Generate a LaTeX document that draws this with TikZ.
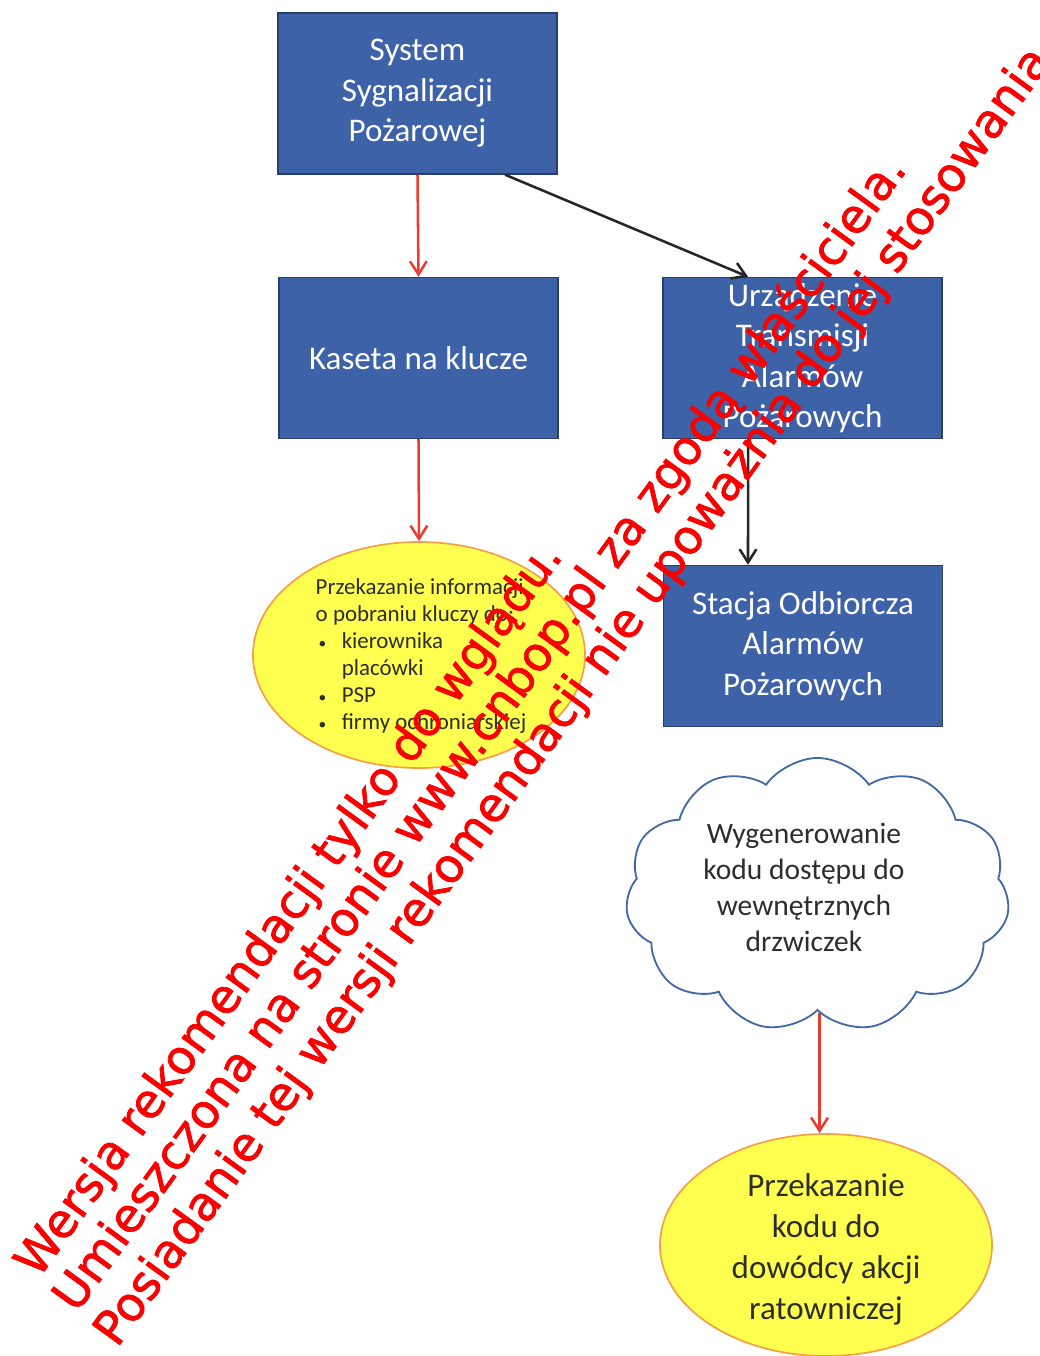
\documentclass[tikz,border=0pt]{standalone}
\usepackage{fontspec}
\setmainfont{Carlito}
\newfontfamily\wmfont[FakeBold=1.6]{DejaVu Sans}
\usetikzlibrary{shapes.geometric,shapes.symbols,arrows.meta}
\definecolor{boxblue}{RGB}{62,98,168}
\definecolor{boxedge}{RGB}{40,62,112}
\definecolor{ovalyellow}{RGB}{255,255,80}
\definecolor{ovaledge}{RGB}{245,160,70}
\definecolor{cloudedge}{RGB}{65,105,165}
\definecolor{linkred}{RGB}{235,60,50}
\definecolor{inkgray}{RGB}{45,45,45}
\definecolor{wmred}{RGB}{250,0,0}
\newcommand{\punkt}[1]{\hspace*{0.075cm}\makebox[0.575cm][l]{\fontsize{11}{11}\selectfont\textbullet}#1}
\newcommand{\blok}[3]{\node[blok] (#1) at (#2) {#3}}
\newcommand{\znak}[3]{\node[znakwodny] (#1) at (#2) {#3}}

\begin{document}
\begin{tikzpicture}[x=0.025cm,y=-0.025cm,
	blok/.style={rectangle,draw=boxedge,line width=1pt,fill=boxblue,text=white,
		minimum width=6.975cm,minimum height=4.025cm,inner sep=0pt,align=center,
		font=\fontsize{23.5}{28.8}\selectfont},
	owal/.style={ellipse,draw=ovaledge,line width=1.2pt,fill=ovalyellow,inner sep=0pt,
		minimum width=8.3cm},
	chmurka/.style={cloud,cloud puffs=11,cloud puff arc=110,aspect=1.43,draw=cloudedge,
		line width=1.3pt,fill=white,inner sep=0pt,minimum width=9.6cm,minimum height=6.85cm},
	opis/.style={text=inkgray,align=center,inner sep=0pt},
	czerwona/.style={draw=linkred,line width=1.8pt,-{Straight Barb[length=0.33cm,width=0.42cm]}},
	czarna/.style={draw=black!85,line width=1.8pt,-{Straight Barb[length=0.33cm,width=0.42cm]}},
	znakwodny/.style={text=wmred,rotate=54,anchor=base,inner sep=0pt,
		font=\wmfont\fontsize{33.5}{38}\selectfont}]
%
	\useasboundingbox (0,0) rectangle (1040,1356);
%
	\blok{ssp}{417.5,93.5}{System\\Sygnalizacji\\Pożarowej};
	\blok{kaseta}{418.5,358}{Kaseta na klucze};
	\blok{utap}{802.5,358}{Urządzenie\\Transmisji\\Alarmów\\Pożarowych};
	\blok{stacja}{803,646}{Stacja Odbiorcza\\Alarmów\\Pożarowych};
%
	\node[owal,minimum height=5.65cm] (info) at (419,655) {};
	\node[opis,align=left,font=\fontsize{16.3}{19.2}\selectfont] (infotekst) at (421,656)
		{Przekazanie informacji\\o pobraniu kluczy do:\\\punkt{kierownika}\\
		\hspace*{0.65cm}placówki\\\punkt{PSP}\\\punkt{firmy ochroniarskiej}};
%
	\node[chmurka] (chmura) at (817.5,895) {};
	\node[opis,font=\fontsize{21}{25.6}\selectfont] (chmuratekst) at (804,887)
		{Wygenerowanie\\kodu dostępu do\\wewnętrznych\\drzwiczek};
%
	\node[owal,minimum height=5.55cm] (kod) at (826,1245) {};
	\node[opis,font=\fontsize{23.5}{29.2}\selectfont] (kodtekst) at (826,1249)
		{Przekazanie\\kodu do\\dowódcy akcji\\ratowniczej};
%
	\draw[czerwona] (ssp.south) -- (kaseta.north);
	\draw[czarna] ([xshift=2.19cm]ssp.south) -- ([xshift=-1.36cm]utap.north);
	\draw[czerwona] (kaseta.south) -- (info.north);
	\draw[czarna] ([xshift=-1.36cm]utap.south) -- ([xshift=-1.375cm]stacja.north);
	\draw[czerwona] (chmura.-89) -- (chmura.-89 |- kod.north);
%
	\znak{wm1}{301,918}{Wersja rekomendacji tylko do wglądu.};
	\znak{wm2}{492,742}{Umieszczona na stronie www.cnbop.pl za zgodą właściciela.};
	\znak{wm3}{589,699}{Posiadanie tej wersji rekomendacji nie upoważnia do jej stosowania.};
%
\end{tikzpicture}
\end{document}
